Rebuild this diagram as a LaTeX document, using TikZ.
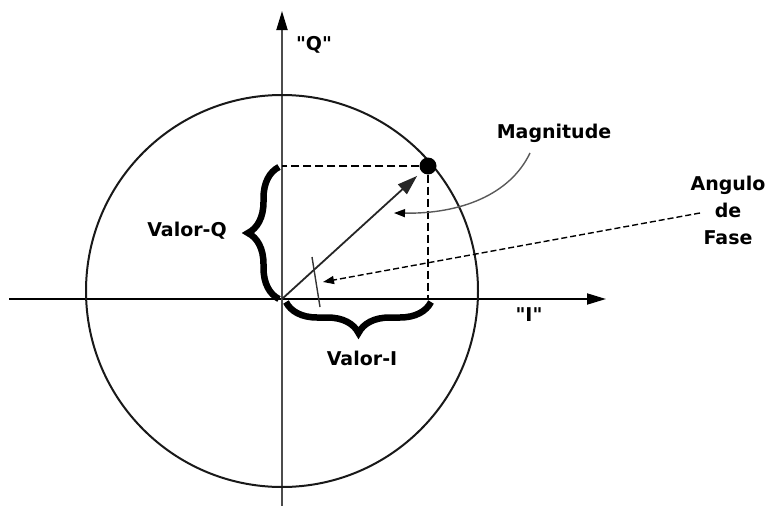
\documentclass[tikz,border=0pt]{standalone}
\usepackage{fontspec}
\setmainfont{DejaVu Sans}[Ligatures=TeXOff]
\usetikzlibrary{arrows.meta, decorations.pathreplacing, calc}
\tikzset{
	labeltext/.style={font=\bfseries\fontsize{19}{27}\selectfont, inner sep=0pt}
}
\tikzset{
	axisline/.style={line width=1.8pt, -{Triangle[length=19pt, width=11pt, color=black]}},
	dot/.style={circle, fill, inner sep=0pt, minimum size=17pt},
	projline/.style={line width=1.4pt, dash pattern=on 8pt off 4pt},
	vecline/.style={line width=1.8pt, black!85, -{Triangle[length=20pt, width=13pt]}, shorten >=6pt},
	bigbrace/.style={line width=6.5pt, decorate, decoration={brace, amplitude=31pt}},
	pointer/.style={line width=1.4pt, -{Triangle[length=11pt, width=8pt, color=black]}}
}

\begin{document}
\begin{tikzpicture}[x=1pt, y=-1pt]
      \useasboundingbox (0,0) rectangle (769,506);
      % axes
      \coordinate (o) at (282,299);
      \coordinate (xl) at (9,299);
      \coordinate (xr) at (606,299);
      \coordinate (yt) at (282,11);
      \coordinate (yb) at (282,506);
      \draw[axisline] (xl) -- (xr);
      \draw[axisline, black!70] (yb) -- (yt);
      % circle
      \draw[line width=2pt, black!90] (282,291) circle (196);
      % point, projections and vector
      \node[dot] (p) at (428,166) {};
      \draw[projline] (p) -- (o |- p);
      \draw[projline] (p) -- (p |- o);
      \draw[vecline] (o) -- (p);
      \draw[line width=1.4pt, black!80] (312,257) -- (320,307);
      % braces
      \draw[bigbrace] (279,299) -- (279,167);
      \draw[bigbrace] (431,302) -- (286,302);
      % labels
      \foreach \name/\x/\y/\txt in {qlab/314/45/"Q", ilab/529/315/"I", mag/554/133/Magnitude, valq/187/231/Valor-Q, vali/362/358/Valor-I} {
        \node[labeltext] (\name) at (\x,\y) {\txt};
      }
      \node[labeltext, align=center] (fase) at (728,210) {Angulo\\de\\Fase};
      % pointers
      \coordinate (magtip) at (394,213);
      \coordinate (fasetip) at (323,282);
      \draw[pointer, black!65] ([xshift=-24pt, yshift=-20pt]mag.center) .. controls (510,195) and (460,214) .. (magtip);
      \draw[pointer, dash pattern=on 6pt off 3pt] ([xshift=-28pt, yshift=-3pt]fase.center) -- (fasetip);
    \end{tikzpicture}
\end{document}
